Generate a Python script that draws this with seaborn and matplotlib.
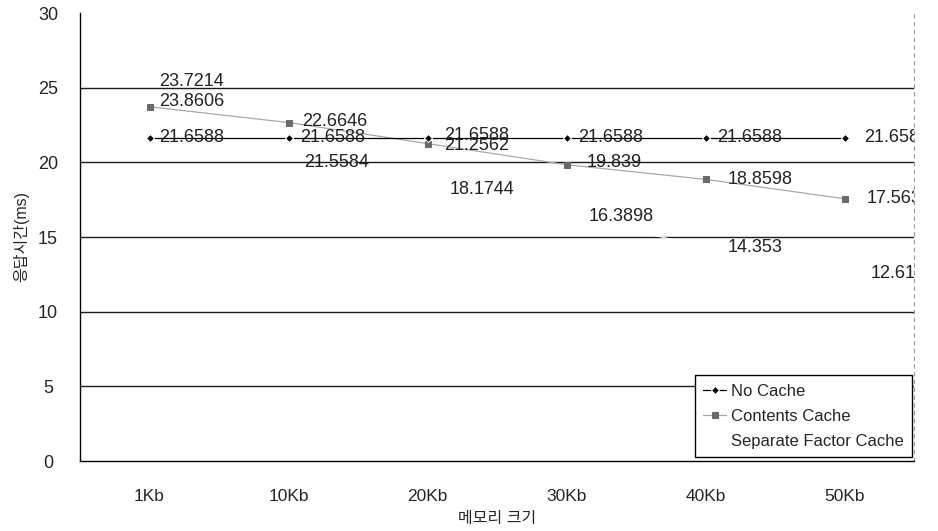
import matplotlib
matplotlib.use("Agg")
import matplotlib.pyplot as plt
import seaborn as sns
import pandas as pd

# Data
memory = ["1Kb", "10Kb", "20Kb", "30Kb", "40Kb", "50Kb"]
no_cache = [21.6588, 21.6588, 21.6588, 21.6588, 21.6588, 21.6588]
contents_cache = [23.7214, 22.6646, 21.2562, 19.839, 18.8598, 17.563]
separate_cache = [23.8606, 21.5584, 18.1744, 16.3898, 14.353, 12.612]

sns.set_theme(style="white")
plt.rcParams['font.family'] = ['Liberation Sans', 'Noto Sans CJK KR', 'DejaVu Sans']

pos = list(range(len(memory)))
df = pd.DataFrame({'pos': pos, 'No Cache': no_cache,
                   'Contents Cache': contents_cache,
                   'Separate Factor Cache': separate_cache})

fig = plt.figure(figsize=(9.38, 5.31), dpi=100)
ax = fig.add_axes([80 / 938, 70 / 531, 834 / 938, 448 / 531])

# gridlines
for v in [5, 10, 15, 20, 25]:
    ax.axhline(v, color='#1a1a1a', lw=1.0, zorder=1)

sns.lineplot(data=df, x='pos', y='Separate Factor Cache', ax=ax, color='#e4e4e4',
             lw=0.8, label='Separate Factor Cache', zorder=2)
sns.lineplot(data=df, x='pos', y='Contents Cache', ax=ax, color='#a8a8a8', lw=0.9,
             marker='s', markersize=4, markerfacecolor='#6a6a6a', markeredgecolor='#6a6a6a',
             label='Contents Cache', zorder=3)
sns.lineplot(data=df, x='pos', y='No Cache', ax=ax, color='black', lw=0.9,
             marker='D', markersize=4, label='No Cache', zorder=4)

# data labels (pixel offsets from the point), clipped at the plot edge
lbl = dict(fontsize=13, color='#222222', va='center', ha='left',
           textcoords='offset pixels', annotation_clip=False, clip_on=True, zorder=5)
nc_off = [(10, 0), (12, 0), (17, 2), (12, 0), (12, 0), (20, 0)]
cc_off = [(10, 25), (14, 1), (17, -2), (20, 2), (22, 0), (22, 0)]
sc_off = [(10, 3), (16, -23), (22, 0), (22, 0), (22, -1), (26, -1)]
for series, offs in [(no_cache, nc_off), (contents_cache, cc_off), (separate_cache, sc_off)]:
    for i, v in enumerate(series):
        t = ax.annotate(f"{v:g}", (pos[i], v), xytext=offs[i], **lbl)
        t.set_clip_box(ax.bbox)

ax.set_xlim(-0.5, len(memory) - 0.5)
ax.set_ylim(0, 30)
ax.set_yticks(range(0, 31, 5))
ax.set_xticks(pos)
ax.set_xticklabels(memory)
ax.set_xticks([p + 0.5 for p in pos[:-1]], minor=True)
ax.tick_params(axis='x', which='major', length=0, pad=20, labelsize=12.5)
ax.tick_params(axis='x', which='minor', length=4, direction='in', color='black', width=0.8)
ax.tick_params(axis='y', length=0, pad=23, labelsize=13)
for t in ax.get_yticklabels():
    t.set_horizontalalignment('center')

ax.set_xlabel("메모리 크기", fontsize=11.5, labelpad=5)
ax.set_ylabel("응답시간(ms)", fontsize=11.5, labelpad=6)

ax.spines['top'].set_visible(False)
ax.spines['left'].set_color('black')
ax.spines['bottom'].set_color('black')
ax.spines['left'].set_linewidth(1.0)
ax.spines['bottom'].set_linewidth(1.0)
ax.spines['right'].set_color('#999999')
ax.spines['right'].set_linestyle((0, (3, 4)))
ax.spines['right'].set_linewidth(0.8)

handles, labels = ax.get_legend_handles_labels()
order = [labels.index(n) for n in ['No Cache', 'Contents Cache', 'Separate Factor Cache']]
handles[order[2]].set_color('white')
leg = ax.legend([handles[k] for k in order], [labels[k] for k in order],
                loc='lower right', bbox_to_anchor=(1.0, 0.005), fontsize=12,
                frameon=True, fancybox=False, edgecolor='black', framealpha=1,
                handlelength=1.4, handletextpad=0.3, borderpad=0.5, labelspacing=0.6,
                borderaxespad=0.1)
leg.get_frame().set_linewidth(1.0)

fig.savefig("out.png", dpi=100)
